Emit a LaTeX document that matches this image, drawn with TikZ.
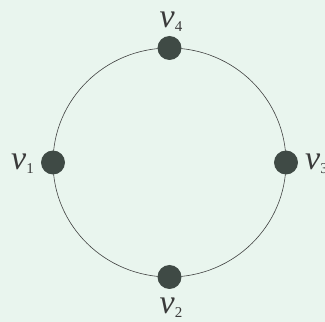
\documentclass[tikz,border=0pt]{standalone}
\usepackage{fontspec}
\setmainfont{Liberation Serif}
\definecolor{bg}{HTML}{E9F5EE}
\definecolor{vert}{HTML}{3F4A45}
\definecolor{lab}{HTML}{3A3A3A}
\newcommand{\vlab}[1]{\textit{v}\raisebox{-4pt}{\fontsize{15}{15}\selectfont #1}}
\begin{document}
\begin{tikzpicture}[x=1pt,y=1pt,
  vtx/.style={circle,fill=vert,minimum size=24pt,inner sep=0pt},
  lbl/.style={text=lab,font=\fontsize{34}{34}\selectfont,inner sep=0pt}]
\fill[bg] (0,0) rectangle (325,322);
\useasboundingbox (0,0) rectangle (325,322);
\coordinate (c) at (169.5,159.5);
\draw[black!75,line width=0.6pt] (c) ellipse [x radius=116.5, y radius=114.5];
\node[vtx] (v4) at (169.5,274) {};
\node[vtx] (v2) at (169.5,45) {};
\node[vtx] (v1) at (53,159.5) {};
\node[vtx] (v3) at (286,159.5) {};
\node[lbl,anchor=base] (l4) at (171,294) {\vlab{4}};
\node[lbl,anchor=base west] (l1) at (11,152) {\vlab{1}};
\node[lbl,anchor=base west] (l3) at (305,152) {\vlab{3}};
\node[lbl,anchor=base] (l2) at (171,8) {\vlab{2}};
\end{tikzpicture}
\end{document}
